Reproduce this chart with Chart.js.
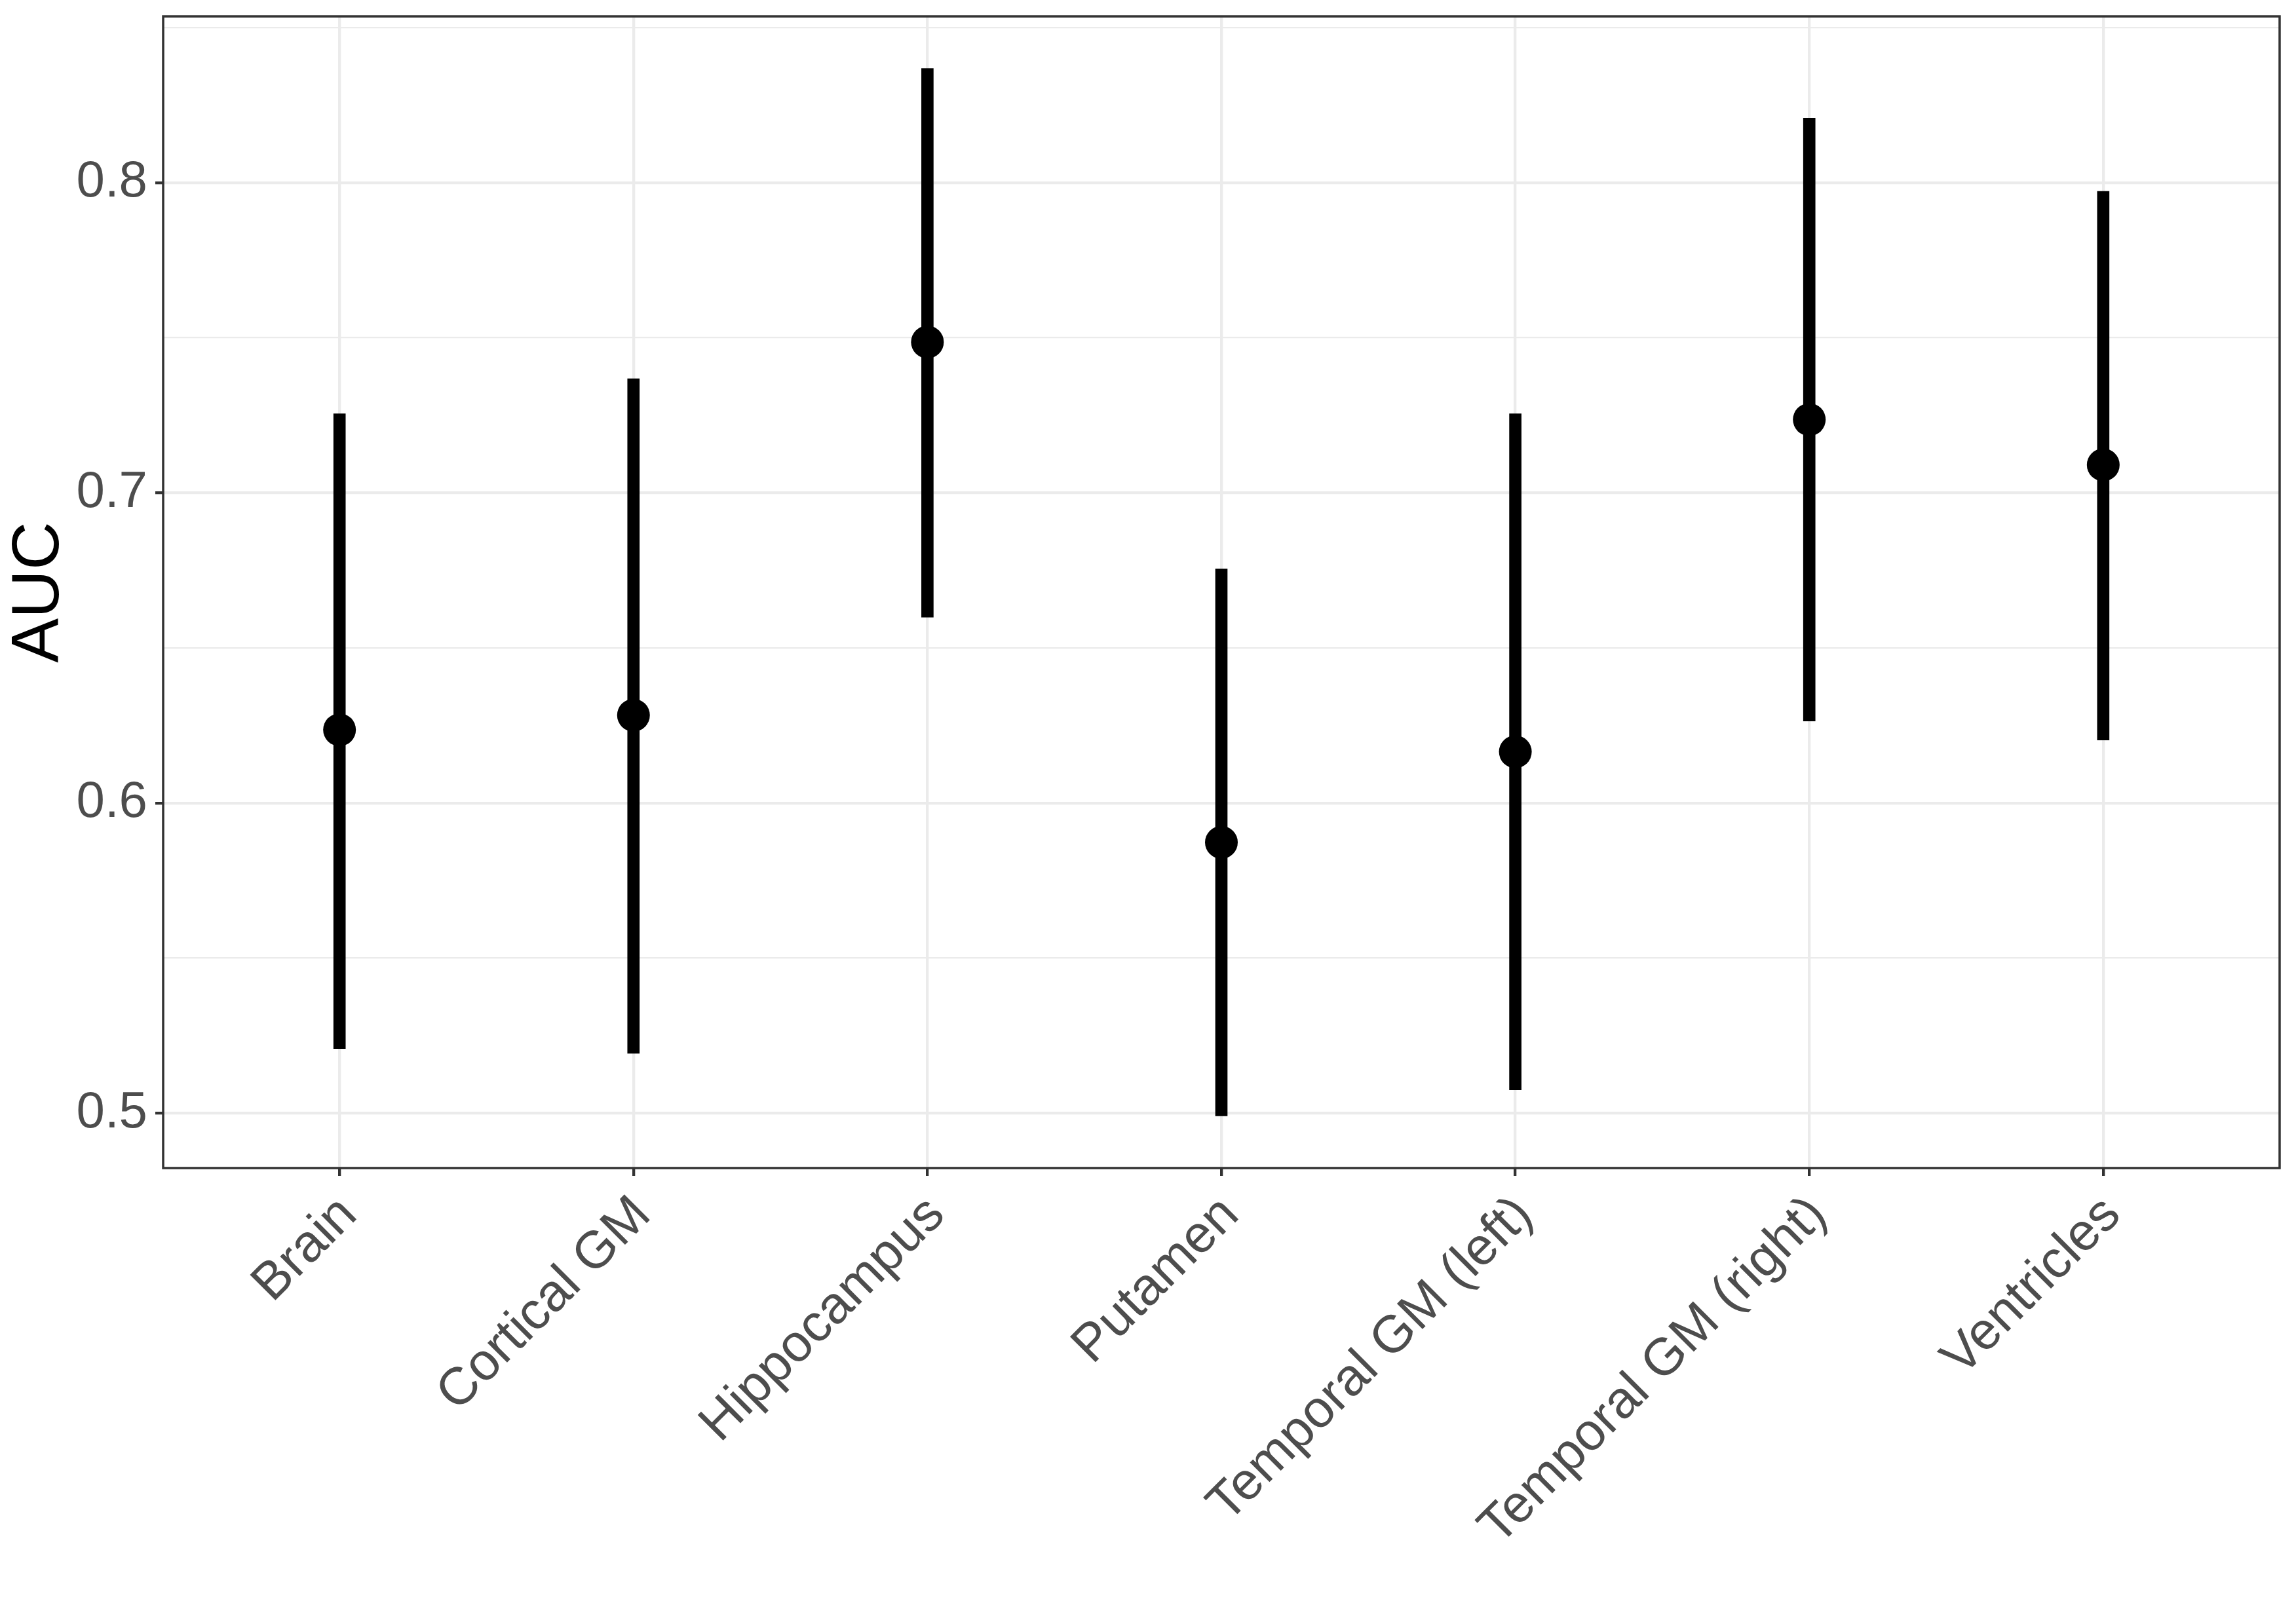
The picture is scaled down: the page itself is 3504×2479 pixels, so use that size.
<!DOCTYPE html>
<html>
<head>
<meta charset="utf-8">
<script src="https://cdn.jsdelivr.net/npm/chart.js@4.4.0/dist/chart.umd.min.js"></script>
<style>
  html, body { margin: 0; padding: 0; background: #fff; }
  #grafico { display: block; }
</style>
</head>
<body>
<canvas id="grafico" width="3504" height="2479" style="width:3504px;height:2479px"></canvas>
<script>
// Datos
const regiones = ['Brain', 'Cortical GM', 'Hippocampus', 'Putamen', 'Temporal GM (left)', 'Temporal GM (right)', 'Ventricles'];
const auc      = [0.6236, 0.6283, 0.7486, 0.5873, 0.6165, 0.7236, 0.7090];
const aucLow   = [0.5208, 0.5193, 0.6599, 0.4991, 0.5075, 0.6264, 0.6203];
const aucHigh  = [0.7255, 0.7368, 0.8368, 0.6755, 0.7255, 0.8208, 0.7972];
const yTicks   = [0.5, 0.55, 0.6, 0.65, 0.7, 0.75, 0.8, 0.85];

const esMayor = v => Math.abs(v * 10 - Math.round(v * 10)) < 1e-6;

// borde del panel (estilo theme_bw)
const bordePanel = {
  id: 'bordePanel',
  afterDraw(chart) {
    const { ctx, chartArea: a } = chart;
    ctx.save();
    ctx.strokeStyle = '#333333';
    ctx.lineWidth = 3.5;
    ctx.strokeRect(a.left, a.top, a.right - a.left, a.bottom - a.top);
    ctx.restore();
  }
};

new Chart(document.getElementById('grafico'), {
  data: {
    datasets: [
      {
        type: 'scatter',
        data: regiones.map((r, i) => ({ x: i, y: auc[i] })),
        backgroundColor: '#000',
        borderWidth: 0,
        pointRadius: 25,
        order: 1
      },
      {
        type: 'bar',
        data: regiones.map((r, i) => ({ x: i, y: [aucLow[i], aucHigh[i]] })),
        backgroundColor: '#000',
        barThickness: 18,
        borderSkipped: false,
        order: 2
      }
    ]
  },
  options: {
    responsive: false,
    devicePixelRatio: 1,
    animation: false,
    layout: { padding: { top: 23, right: 22, left: 0, bottom: 0 } },
    plugins: {
      legend: { display: false },
      tooltip: { enabled: false }
    },
    scales: {
      x: {
        type: 'linear',
        min: -0.6,
        max: 6.6,
        offset: false,
        afterBuildTicks: s => { s.ticks = regiones.map((r, i) => ({ value: i })); },
        afterFit: s => { s.height = 696; s.paddingLeft = 0; s.paddingRight = 0; },
        border: { display: false },
        grid: {
          offset: false,
          color: '#EBEBEB',
          lineWidth: 4.3,
          tickColor: '#333333',
          tickWidth: 4.3,
          tickLength: 12
        },
        ticks: {
          autoSkip: false,
          minRotation: 45,
          maxRotation: 45,
          padding: 13,
          labelOffset: 14,
          color: '#4D4D4D',
          font: { family: 'Liberation Sans', size: 80 },
          callback: v => regiones[v]
        }
      },
      y: {
        min: 0.4823,
        max: 0.8536,
        afterBuildTicks: s => { s.ticks = yTicks.map(v => ({ value: v })); },
        afterFit: s => { s.width = 249; s.paddingTop = 0; s.paddingBottom = 0; },
        border: { display: false },
        grid: {
          color: '#EBEBEB',
          lineWidth: c => esMayor(c.tick.value) ? 4.3 : 2.2,
          tickColor: c => esMayor(c.tick.value) ? '#333333' : 'rgba(0,0,0,0)',
          tickWidth: 4.3,
          tickLength: 12
        },
        ticks: {
          padding: 12,
          color: '#4D4D4D',
          font: { family: 'Liberation Sans', size: 78 },
          callback: v => esMayor(v) ? v.toFixed(1) : ''
        },
        title: {
          display: true,
          text: 'AUC',
          color: '#000',
          padding: 0,
          font: { family: 'Liberation Sans', size: 102, lineHeight: 1.2 }
        }
      }
    }
  },
  plugins: [bordePanel]
});
</script>
</body>
</html>
